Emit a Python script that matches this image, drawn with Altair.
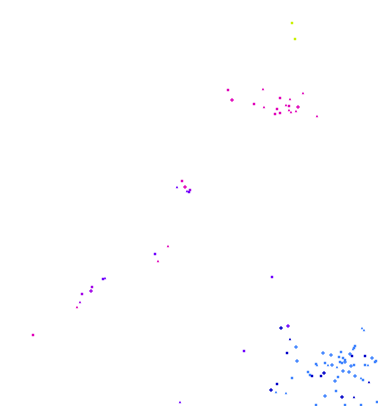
import altair as alt
import pandas as pd

# x, y positions (data units), colour group, shape group
xs = [228,263,232,254,264,280,290,303,277,286,289,298,275,280,289,291,296,317,
      182,177,185,187,189,190,
      168,155,158,103,105,92,91,82,80,77,
      292,295,33,180,272,244,
      281,288,290,296,287,362,364,323,331,339,341,343,345,340,350,352,354,355,353,365,372,376,
      297,316,317,308,310,312,292,277,271,276,286,316,342,345,325,328,332,351,354,365,368,375,
      324,321,337,343,349,355,361,363,369,335,338,336,342,354,325,345,361,377]
ys = [90,89,100,104,107,98,99,93,109,105,106,107,114,113,110,112,111,116,
      181,187,187,191,192,190,
      246,254,261,279,278,287,291,294,302,307,
      23,39,335,402,277,351,
      328,326,339,347,353,328,330,353,355,357,352,358,360,362,354,356,348,346,349,356,358,361,
      361,364,365,372,375,376,378,384,390,392,393,405,363,362,363,365,365,366,365,365,365,362,
      373,376,367,371,372,376,378,380,382,381,377,391,397,397,396,405,405,402]
groups = (["mg"] * 18 +
          ["mg","vi","mg","vi","vi","pu"] +
          ["mg","vi","mg","vi","vi","pu","pu","pu","pu","mg"] +
          ["yg","yg","mg","vi","vi","vi"] +
          ["db","vi","db","lb","db","lb","lb","lb","lb","lb","lb","lb","lb","lb","lb","db","lb","lb","lb","db","lb","lb"] +
          ["lb","lb","lb","lb","lb","db","lb","db","db","lb","lb","lb","lb","lb","lb","lb","lb","lb","lb","lb","lb","lb"] +
          ["db","db","lb","lb","lb","lb","lb","lb","db","lb","lb","lb","db","db","lb","lb","lb","lb"])
shapes = (["s","t","c","s","t","s","t","t","s","t","s","c","s","s","t","t","t","t"] +
          ["s","t","c","t","s","s"] +
          ["t","s","t","s","t","s","c","s","t","t"] +
          ["s","s","s","t","s","s"] +
          ["c","c","t","c","s","t","t","c","c","s","s","s","s","s","c","s","s","s","t","s","c","s"] +
          ["c","s","t","s","s","s","s","s","c","t","t","s","s","c","s","t","c","c","s","s","t","s"] +
          ["c","s","t","c","c","c","t","s","t","c","s","s","c","t","c","s","s","s"])
shape_sizes = {"c": 12, "s": 6, "t": 7}

df = pd.DataFrame({"x": xs, "y": ys, "g": groups, "sh": shapes})
df["sz"] = df["sh"].map(shape_sizes)

chart = alt.Chart(df).mark_point(filled=True, opacity=1).encode(
    x=alt.X("x:Q", scale=alt.Scale(domain=[0, 378], nice=False, zero=False), axis=None),
    y=alt.Y("y:Q", scale=alt.Scale(domain=[406, 0], nice=False, zero=False), axis=None),
    color=alt.Color("g:N", legend=None,
                    scale=alt.Scale(domain=["lb","db","vi","pu","mg","yg"],
                                    range=["#3a80ff","#0000c8","#6e00ff","#a000e8","#e000b8","#c8f000"])),
    shape=alt.Shape("sh:N", legend=None,
                    scale=alt.Scale(domain=["c","s","t"], range=["cross","square","triangle-up"])),
    size=alt.Size("sz:Q", legend=None, scale=None),
).properties(width=378, height=406, padding=0, autosize=alt.AutoSizeParams(type="none")
).configure_view(stroke=None)

chart.save("out.html", embed_options={"renderer": "svg", "actions": False})
